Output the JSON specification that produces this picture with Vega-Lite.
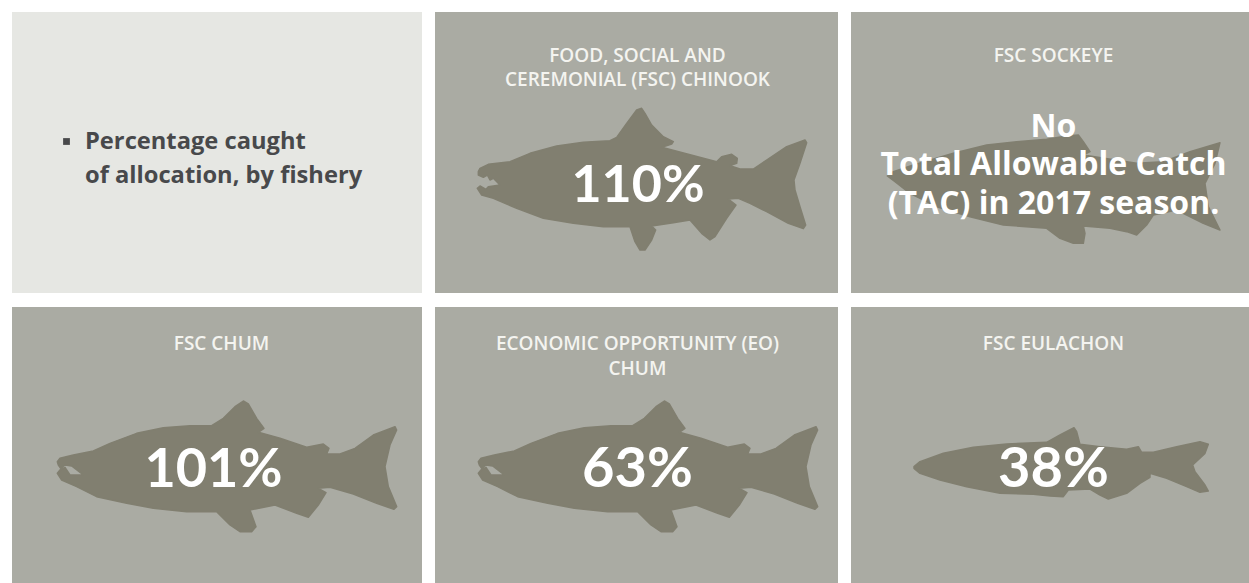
{
"$schema":"https://vega.github.io/schema/vega-lite/v6.json",
"width":1249,"height":583,"padding":0,"autosize":{"type":"none"},"background":"#ffffff",
"config":{"view":{"stroke":null},"text":{"font":"Lato","lineBreak":"\n"}},
"data":{"values":[
{"panel":"legend","col":1,"row":1,"kind":"legend","note":"Percentage caught\nof allocation, by fishery"},
{"panel":"FSC Chinook","col":2,"row":1,"kind":"fishery","title":"FOOD, SOCIAL AND\nCEREMONIAL (FSC) CHINOOK","pct":1.10},
{"panel":"FSC Sockeye","col":3,"row":1,"kind":"fishery","title":"FSC SOCKEYE","tac":"No\nTotal Allowable Catch\n(TAC) in 2017 season."},
{"panel":"FSC Chum","col":1,"row":2,"kind":"fishery","title":"FSC CHUM","pct":1.01},
{"panel":"EO Chum","col":2,"row":2,"kind":"fishery","title":"ECONOMIC OPPORTUNITY (EO)\nCHUM","pct":0.63},
{"panel":"FSC Eulachon","col":3,"row":2,"kind":"fishery","title":"FSC EULACHON","pct":0.38}
]},
"encoding":{
"x":{"field":"col","type":"ordinal","axis":null,"scale":{"type":"band","domain":[1,2,3],"range":[19,1254],"paddingInner":0.03125,"paddingOuter":0}},
"y":{"field":"row","type":"ordinal","axis":null,"scale":{"type":"band","domain":[1,2],"range":[12,588],"paddingInner":0.04746,"paddingOuter":0}}
},
"layer":[
{"mark":{"type":"rect"},"encoding":{"color":{"field":"kind","type":"nominal","legend":null,"scale":{"domain":["legend","fishery"],"range":["#e6e7e3","#aaaba3"]}}}},
{"transform":[{"filter":"datum.col==1"}],"mark":{"type":"rect","xOffset":-7},"encoding":{"color":{"field":"kind","type":"nominal","legend":null}}},
{"transform":[{"filter":"datum.panel=='FSC Chinook'"}],"mark":{"type":"point","filled":true,"opacity":1,"fill":"#817f70","stroke":"#817f70","strokeWidth":1.5,"strokeJoin":"round","size":0.4444,"xOffset":-176.5,"yOffset":-52.5,"shape":"M55,215L60,205L85,193L150,185L210,160L290,138L370,127L450,122L470,112L500,70L530,30L545,25L555,40L575,75L610,110L640,125L635,132L605,142L770,185L785,170L815,163L832,175L830,190L810,197L840,207L880,207L920,180L980,140L1035,120L1040,128L1020,190L1002,240L1005,270L1020,320L1037,375L1030,386L985,370L920,335L870,310L835,295L805,297L828,315L800,355L765,410L750,420L725,400L690,360L640,368L575,378L587,390L575,420L555,450L540,450L525,425L510,380L430,380L340,370L250,355L170,325L100,295L65,285L52,265L60,258L78,268L85,260L120,255L100,235L90,240L82,225L70,232L55,225Z"}},
{"transform":[{"filter":"datum.panel=='FSC Sockeye'"}],"mark":{"type":"point","filled":true,"opacity":1,"fill":"#817f70","stroke":"#817f70","strokeWidth":1.5,"strokeJoin":"round","size":0.4444,"xOffset":-182.5,"yOffset":-52.5,"shape":"M52,228L70,215L130,195L250,160L350,135L440,125L530,118L590,108L625,105L640,125L660,155L640,165L800,190L880,185L960,155L1050,128L1035,190L1005,250L1015,320L1050,390L1000,370L920,330L850,345L830,375L800,405L770,395L720,385L640,378L645,400L640,430L610,430L570,415L530,385L400,375L300,350L200,320L120,280L75,245Z"}},
{"transform":[{"filter":"datum.panel=='FSC Chum'"}],"mark":{"type":"point","filled":true,"opacity":1,"fill":"#817f70","stroke":"#817f70","strokeWidth":1.5,"strokeJoin":"round","size":0.4444,"xOffset":-180.5,"yOffset":-57.5,"shape":"M52,215L60,205L100,195L160,183L210,160L290,130L370,113L450,107L515,107L550,85L585,50L610,33L625,42L650,85L672,115L655,127L720,145L800,172L850,162L867,175L860,192L900,192L945,175L1000,135L1065,110L1070,120L1050,165L1035,230L1045,290L1070,350L1062,358L1010,340L940,312L870,292L835,295L858,308L835,345L805,382L770,370L705,345L630,360L648,410L635,425L600,425L570,405L530,365L440,365L340,355L260,340L170,320L110,290L65,270L52,250L60,240L75,232L90,255L130,255L95,228L75,225L62,235L55,225Z"}},
{"transform":[{"filter":"datum.panel=='EO Chum'"}],"mark":{"type":"point","filled":true,"opacity":1,"fill":"#817f70","stroke":"#817f70","strokeWidth":1.5,"strokeJoin":"round","size":0.4444,"xOffset":-175.5,"yOffset":-57.5,"shape":"M52,215L60,205L100,195L160,183L210,160L290,130L370,113L450,107L515,107L550,85L585,50L610,33L625,42L650,85L672,115L655,127L720,145L800,172L850,162L867,175L860,192L900,192L945,175L1000,135L1065,110L1070,120L1050,165L1035,230L1045,290L1070,350L1062,358L1010,340L940,312L870,292L835,295L858,308L835,345L805,382L770,370L705,345L630,360L648,410L635,425L600,425L570,405L530,365L440,365L340,355L260,340L170,320L110,290L65,270L52,250L60,240L75,232L90,255L130,255L95,228L75,225L62,235L55,225Z"}},
{"transform":[{"filter":"datum.panel=='FSC Eulachon'"}],"mark":{"type":"point","filled":true,"opacity":1,"fill":"#817f70","stroke":"#817f70","strokeWidth":1.5,"strokeJoin":"round","size":0.4444,"xOffset":-152.5,"yOffset":-32.5,"shape":"M42,155L60,140L130,115L220,97L320,87L440,82L480,60L522,38L530,50L540,88L600,95L680,103L715,95L725,112L760,112L830,95L900,80L925,88L915,115L878,150L885,170L915,210L925,228L900,232L860,215L800,190L750,175L750,187L720,205L680,235L625,252L600,240L570,222L505,225L490,245L450,243L400,238L300,235L200,215L120,195L60,175L42,160Z"}},
{"transform":[{"filter":"datum.kind=='legend'"}],"mark":{"type":"point","filled":true,"opacity":1,"shape":"square","size":46,"fill":"#48494b","stroke":"#48494b","strokeWidth":0,"xOffset":-154,"yOffset":-11},"encoding":{}},
{"transform":[{"filter":"datum.kind=='legend'"}],"mark":{"type":"text","align":"left","baseline":"alphabetic","font":"Open Sans","fontSize":23.7,"fontWeight":700,"lineHeight":33.3,"color":"#48494b","dx":-135.5,"dy":-3},"encoding":{"text":{"field":"note"}}},
{"transform":[{"filter":"datum.row==1 && datum.title"}],"mark":{"type":"text","align":"center","baseline":"alphabetic","font":"Open Sans","fontSize":19,"fontWeight":600,"lineHeight":24,"color":"#f4f4f0","dx":1,"dy":-90},"encoding":{"text":{"field":"title"}}},
{"transform":[{"filter":"datum.row==2 && datum.title"}],"mark":{"type":"text","align":"center","baseline":"alphabetic","font":"Open Sans","fontSize":19,"fontWeight":600,"lineHeight":24.5,"color":"#f4f4f0","dx":1,"dy":-97.5},"encoding":{"text":{"field":"title"}}},
{"transform":[{"filter":"isValid(datum.pct) && datum.row==1"}],"mark":{"type":"text","align":"center","baseline":"alphabetic","fontSize":52,"fontWeight":700,"color":"#ffffff","dx":1.5,"dy":49.5},"encoding":{"text":{"field":"pct","type":"quantitative","format":".0%"}}},
{"transform":[{"filter":"isValid(datum.pct) && datum.row==2 && datum.col>1"}],"mark":{"type":"text","align":"center","baseline":"alphabetic","fontSize":56,"fontWeight":700,"color":"#ffffff","dx":1,"dy":39.5},"encoding":{"text":{"field":"pct","type":"quantitative","format":".0%"}}},
{"transform":[{"filter":"isValid(datum.pct) && datum.row==2 && datum.col==1"}],"mark":{"type":"text","align":"center","baseline":"alphabetic","fontSize":54,"fontWeight":700,"color":"#ffffff","dx":-7,"dy":39.5},"encoding":{"text":{"field":"pct","type":"quantitative","format":".0%"}}},
{"transform":[{"filter":"datum.tac"}],"mark":{"type":"text","align":"center","baseline":"alphabetic","font":"Open Sans","fontSize":32,"fontWeight":700,"lineHeight":38.3,"color":"#ffffff","dx":1,"dy":-15.5},"encoding":{"text":{"field":"tac"}}}
]
}
